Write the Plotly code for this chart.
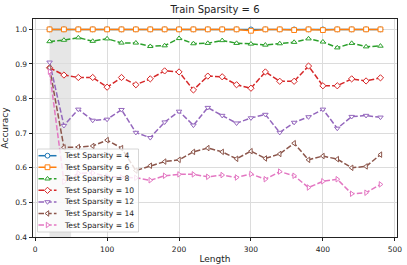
import plotly.graph_objects as go

lengths = [20, 40, 60, 80, 100, 120, 140, 160, 180, 200, 220, 240,
           260, 280, 300, 320, 340, 360, 380, 400, 420, 440, 460, 480]

acc_4 = [1.0, 1.0, 1.0, 1.0, 1.0, 1.0, 1.0, 1.0, 1.0, 1.0, 1.0, 1.0,
         1.0, 1.0, 1.0, 1.0, 1.0, 1.0, 1.0, 1.0, 1.0, 1.0, 1.0, 1.0]
acc_6 = [1.0, 1.0, 1.0, 1.0, 1.0, 1.0, 1.0, 1.0, 1.0, 1.0, 1.0, 1.0,
         1.0, 1.0, 0.996, 1.0, 1.0, 0.998, 1.0, 0.998, 1.0, 1.0, 1.0, 1.0]
acc_8 = [0.965, 0.969, 0.976, 0.966, 0.973, 0.961, 0.961, 0.951, 0.953, 0.974, 0.959, 0.960,
         0.968, 0.960, 0.958, 0.955, 0.959, 0.963, 0.973, 0.964, 0.947, 0.960, 0.950, 0.952]
acc_10 = [0.889, 0.868, 0.861, 0.861, 0.833, 0.861, 0.840, 0.857, 0.880, 0.877, 0.825, 0.865,
          0.863, 0.840, 0.830, 0.877, 0.850, 0.850, 0.894, 0.837, 0.837, 0.857, 0.851, 0.860]
acc_12 = [0.905, 0.722, 0.769, 0.737, 0.740, 0.768, 0.702, 0.687, 0.732, 0.763, 0.723, 0.774,
          0.751, 0.729, 0.744, 0.754, 0.702, 0.731, 0.747, 0.769, 0.714, 0.748, 0.751, 0.746]
acc_14 = [0.889, 0.659, 0.660, 0.663, 0.680, 0.657, 0.592, 0.606, 0.618, 0.623, 0.646, 0.657,
          0.646, 0.626, 0.648, 0.627, 0.640, 0.671, 0.623, 0.634, 0.625, 0.600, 0.604, 0.638]
acc_16 = [0.878, 0.560, 0.584, 0.585, 0.575, 0.572, 0.571, 0.564, 0.577, 0.581, 0.581, 0.574,
          0.579, 0.572, 0.582, 0.567, 0.589, 0.577, 0.543, 0.561, 0.567, 0.525, 0.528, 0.552]

series_names = ["Test Sparsity = 4", "Test Sparsity = 6", "Test Sparsity = 8",
                "Test Sparsity = 10", "Test Sparsity = 12", "Test Sparsity = 14",
                "Test Sparsity = 16"]
series_values = [acc_4, acc_6, acc_8, acc_10, acc_12, acc_14, acc_16]
colors = ["#1f77b4", "#ff7f0e", "#2ca02c", "#d62728", "#9467bd", "#8c564b", "#e377c2"]
symbols = ["circle", "square", "triangle-up", "diamond",
           "triangle-down", "triangle-left", "triangle-right"]
dashes = ["solid", "solid", "5.5px,2.2px", "5.5px,2.2px", "5.5px,2.2px", "5.5px,2.2px", "5.5px,2.2px"]

x_ticks = [0, 100, 200, 300, 400, 500]
y_ticks = [0.4, 0.5, 0.6, 0.7, 0.8, 0.9, 1.0]
y_tick_labels = ["0.4", "0.5", "0.6", "0.7", "0.8", "0.9", "1.0"]
shade_range = [20, 50]

FONT = "DejaVu Sans"
W, H = 407, 265
ML, MR, MT, MB = 33, 10, 19, 28
PW, PH = W - ML - MR, H - MT - MB
MSIZE = 4.8
MLINE = 1.0

fig = go.Figure()

for name, vals, col, sym, dash in zip(series_names, series_values, colors, symbols, dashes):
    fig.add_trace(go.Scatter(
        x=lengths, y=vals, name=name, mode="lines+markers",
        line=dict(color=col, width=1.5, dash=dash),
        marker=dict(symbol=sym, size=MSIZE, color="white",
                    line=dict(color=col, width=MLINE)),
        showlegend=False,
    ))

# custom compact legend drawn on an overlay axis measured in pixels
box_x0, box_x1 = 4.5, 105.5
box_y0, box_y1 = 5, 88
fig.add_trace(go.Scatter(
    x=[box_x0, box_x1, box_x1, box_x0, box_x0],
    y=[box_y0, box_y0, box_y1, box_y1, box_y0],
    xaxis="x2", yaxis="y2", mode="lines", fill="toself",
    fillcolor="rgba(255,255,255,0.8)", line=dict(color="#cccccc", width=0.8),
    hoverinfo="skip", showlegend=False,
))
row_top = 81.3
row_step = 11.55
for i, (name, col, sym, dash) in enumerate(zip(series_names, colors, symbols, dashes)):
    yy = row_top - i * row_step
    fig.add_trace(go.Scatter(
        x=[5.5, 14.5, 23.5], y=[yy, yy, yy], xaxis="x2", yaxis="y2",
        mode="lines", line=dict(color=col, width=1.5, dash=dash),
        hoverinfo="skip", showlegend=False,
    ))
    fig.add_trace(go.Scatter(
        x=[14.5], y=[yy], xaxis="x2", yaxis="y2", mode="markers",
        marker=dict(symbol=sym, size=MSIZE, color="white",
                    line=dict(color=col, width=MLINE)),
        hoverinfo="skip", showlegend=False,
    ))
    fig.add_annotation(x=29.3, y=yy, xref="x2", yref="y2", text=name,
                       showarrow=False, xanchor="left", yanchor="middle",
                       font=dict(family=FONT, size=7.6, color="#222222"))

fig.add_shape(type="rect", xref="x", yref="paper", x0=shade_range[0], x1=shade_range[1],
              y0=0, y1=1, fillcolor="rgba(128,128,128,0.2)", line=dict(width=0),
              layer="below")

axis_common = dict(
    showline=True, linecolor="#222222", linewidth=0.8, mirror=True,
    ticks="outside", ticklen=3.5, tickwidth=0.8, tickcolor="#222222",
    showgrid=True, gridcolor="#dcdcdc", gridwidth=1, zeroline=False,
    tickfont=dict(family=FONT, size=7.5, color="#222222"),
    ticklabeloverflow="allow", automargin=False,
)

fig.update_layout(
    width=W, height=H,
    margin=dict(l=ML, r=MR, t=MT, b=MB),
    paper_bgcolor="white", plot_bgcolor="white",
    font=dict(family=FONT, color="#222222"),
    title=dict(text="Train Sparsity = 6", x=0.5, xref="paper", xanchor="center",
               y=1 - 9.5 / H, yref="container", yanchor="middle",
               font=dict(family=FONT, size=10, color="#222222")),
    xaxis=dict(range=[-3, 503], tickvals=x_ticks, ticklabelstandoff=2,
               title=dict(text="Length", standoff=2,
                          font=dict(family=FONT, size=9, color="#222222")),
               **axis_common),
    yaxis=dict(range=[0.4, 1.03], tickvals=y_ticks, ticktext=y_tick_labels,
               title=dict(text="Accuracy", standoff=5,
                          font=dict(family=FONT, size=9, color="#222222")),
               **axis_common),
    xaxis2=dict(overlaying="x", anchor="y2", range=[0, PW], visible=False,
                fixedrange=True),
    yaxis2=dict(overlaying="y", anchor="x2", range=[0, PH], visible=False,
                fixedrange=True),
    showlegend=False,
)

fig.write_html(
    "out.html",
    config={"displayModeBar": False},
    post_script="document.body.style.margin='0px';document.body.style.overflow='hidden';",
)
